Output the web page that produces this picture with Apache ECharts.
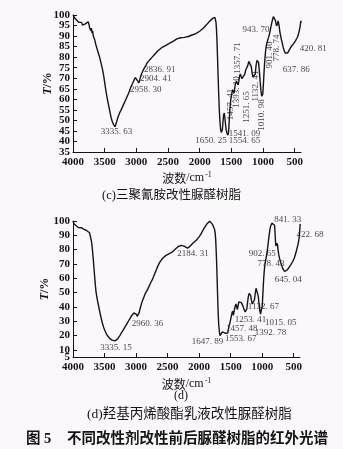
<!DOCTYPE html>
<html>
<head>
<meta charset="utf-8">
<style>
  html, body { margin: 0; padding: 0; background: #fbf8fb; }
  #chart { width: 343px; height: 449px; }
</style>
<script src="https://cdn.jsdelivr.net/npm/echarts@6/dist/echarts.min.js"></script>
</head>
<body>
<div id="chart"></div>
<script>
// Wavenumber ticks (cm^-1) shared by both spectra
const wnTicks = [4000, 3500, 3000, 2500, 2000, 1500, 1000, 500];
// Transmittance ticks and labels
const tTicksC = [35, 40, 45, 50, 55, 60, 65, 70, 75, 80, 85, 90, 95, 100];
const tLabelsD = [5, 10, 20, 30, 40, 50, 60, 70, 80, 90, 100];
const tTicksD = [10, 20, 30, 40, 50, 60, 70, 80, 90, 100];

// (c) melamine-modified UF resin: [wavenumber, T%]
const spectrumC = [
  [4000,100],[3985,99.5],[3970,98.5],[3955,98.8],[3940,97.5],[3925,98],[3910,96.5],[3895,97.2],
  [3880,95.8],[3865,96.5],[3850,95.2],[3835,96],[3820,94.8],[3805,95.8],[3790,96.2],[3775,95],
  [3760,96.8],[3748,95.5],[3738,94],[3728,94.8],[3718,92.5],[3710,93.8],[3700,91.5],[3690,92.5],
  [3680,90],[3670,90.8],[3655,88],[3640,86],[3620,84],[3600,82],[3580,80],[3560,77.5],[3540,75],
  [3520,72],[3500,68],[3480,64],[3460,60.5],[3440,57.5],[3420,54.5],[3400,51.5],[3380,49.5],
  [3360,48],[3345,47.2],[3336,47],[3325,47.8],[3310,49.5],[3290,51.5],[3265,53.5],[3240,55],
  [3210,57],[3180,59],[3150,61],[3120,63],[3090,65.5],[3060,67.5],[3035,69.2],[3015,70.3],
  [3000,70],[2985,69],[2970,68.2],[2958,67.8],[2948,69],[2935,70.5],[2918,72],[2904,73],
  [2890,74],[2870,75],[2850,76],[2836,77],[2810,78],[2780,79],[2750,80],[2720,81],[2690,82],
  [2660,83],[2630,83.8],[2600,84.5],[2570,85],[2540,85.5],[2510,86],[2480,86.5],[2450,87],
  [2420,87.5],[2390,88.2],[2360,88.7],[2330,89],[2300,89.2],[2270,89.3],[2240,89.4],[2210,89.6],
  [2180,89.8],[2150,90.1],[2120,90.5],[2090,90.8],[2060,91.2],[2030,91.8],[2000,92.3],[1970,92.9],
  [1940,93.8],[1910,94.8],[1880,95.8],[1850,96.8],[1820,97.7],[1795,98.4],[1775,98.8],[1760,98.9],
  [1750,98.2],[1742,96.5],[1735,93.5],[1727,88],[1718,80],[1710,72],[1700,63],[1690,55],
  [1680,49.5],[1670,46],[1660,44.3],[1650,44],[1642,45.5],[1633,49],[1622,52.5],[1612,53.5],
  [1603,51.5],[1593,48.5],[1582,45.5],[1570,44],[1560,43.3],[1554,43],[1546,44],[1541,45.5],
  [1533,50],[1522,55.5],[1510,59.5],[1495,62.5],[1480,64.5],[1468,64.5],[1457,63],[1448,65],
  [1435,67.5],[1420,68.5],[1405,68],[1393,66.8],[1382,68.5],[1370,71],[1358,72],[1347,71],
  [1333,69.8],[1318,69.2],[1303,70],[1288,72],[1272,74],[1260,74.5],[1251,74],[1240,76],
  [1225,78],[1210,78.8],[1198,78.2],[1185,75.5],[1172,72.5],[1160,70.5],[1148,70],[1132,69.8],
  [1122,72],[1110,76],[1095,78.5],[1082,79],[1070,77.5],[1058,73.5],[1045,68.5],[1032,64],
  [1020,61.5],[1011,61],[1003,62.5],[995,66.5],[985,72],[975,77],[965,81],[955,84],[944,86],
  [935,87],[922,88.5],[910,89.5],[901,90],[890,92],[875,94.5],[860,96.5],[848,98],[836,99.2],
  [826,99.4],[816,98.6],[806,97.5],[795,96],[786,94.8],[779,94.5],[771,95.8],[762,97.2],
  [754,97],[746,95],[736,92.5],[724,90.5],[710,88.5],[695,86.5],[680,84.5],[665,83],[650,82],
  [638,81.5],[625,81.6],[610,82],[595,82.8],[580,83.7],[565,84.5],[550,85.2],[535,85.8],
  [520,86.3],[505,86.9],[490,87.6],[475,88.4],[460,89.2],[448,90],[438,91.2],[428,92.5],
  [421,93],[414,94.5],[408,96],[402,97.2],[397,96.3]
];

// (d) hydroxy-acrylate emulsion modified UF resin: [wavenumber, T%]
const spectrumD = [
  [4000,100],[3990,98.5],[3975,97.5],[3960,97],[3945,96],[3930,96.3],[3915,95.5],[3900,95.8],
  [3885,95],[3870,95.3],[3855,94.5],[3840,94.8],[3825,94.2],[3810,93.6],[3795,94],[3780,93.2],
  [3765,93.5],[3750,92.5],[3738,91.8],[3728,90],[3718,88],[3708,86],[3700,83.5],[3692,80],
  [3684,76],[3676,72],[3668,67.5],[3660,63],[3652,58.5],[3644,54.5],[3636,51],[3626,48],
  [3612,44.5],[3598,41.5],[3582,38],[3565,34.5],[3548,31],[3530,28],[3512,25.5],[3494,23.5],
  [3476,21.7],[3458,20.2],[3440,19],[3420,18],[3400,17.2],[3380,16.8],[3360,16.5],[3335,16.3],
  [3315,16.7],[3295,17.5],[3275,18.7],[3255,20.1],[3235,21.6],[3215,23],[3195,24.5],[3175,26],
  [3155,27.5],[3135,29],[3115,30.5],[3095,32],[3075,33.5],[3055,34.8],[3035,35.8],[3020,36.4],
  [3008,36],[2995,34.8],[2982,33.4],[2970,32.8],[2960,33.5],[2950,36],[2938,38.5],[2922,41],
  [2905,43.5],[2888,45.5],[2870,47.5],[2852,49.5],[2835,50.5],[2818,52],[2800,53.8],[2782,55.5],
  [2764,57.2],[2746,58.7],[2728,60.5],[2710,62.5],[2692,64.5],[2674,66.5],[2656,68.3],[2638,70],
  [2620,71.5],[2600,72.8],[2578,74],[2555,75],[2530,75.8],[2505,76.5],[2480,77],[2455,77.5],
  [2430,78.2],[2405,79.2],[2380,80.3],[2355,81.3],[2330,82.2],[2305,82.8],[2280,83],[2255,82.8],
  [2230,82.3],[2205,81.6],[2184,81],[2165,81.3],[2145,82.3],[2120,83.6],[2095,84.6],[2070,85.5],
  [2045,86.5],[2020,87.8],[1995,89.3],[1970,91],[1945,93],[1920,95],[1895,96.8],[1870,98.3],
  [1850,99.3],[1832,99.8],[1818,99.6],[1804,98.8],[1790,97.8],[1776,96.5],[1762,95],[1752,93.5],
  [1744,91],[1736,86],[1728,78],[1720,68],[1712,56],[1704,44],[1696,34],[1688,27],[1678,22.5],
  [1668,20],[1658,19.2],[1648,19],[1640,20.3],[1631,22.5],[1622,23.6],[1612,23.3],[1600,22.4],
  [1587,21.6],[1574,20.9],[1562,20.4],[1553,20.3],[1545,21.8],[1535,24.5],[1522,27],[1508,29.5],
  [1494,32.5],[1480,35.5],[1468,37],[1460,35.5],[1457,34],[1450,35],[1440,38],[1428,40.5],
  [1415,42],[1403,40.8],[1393,38.2],[1383,40.5],[1370,43.5],[1358,44],[1345,42.5],[1330,43],
  [1315,42],[1300,40],[1285,38],[1270,36.5],[1260,35.8],[1253,35.5],[1244,38.5],[1232,43],
  [1220,47],[1207,49.5],[1195,50],[1183,48],[1170,44.5],[1157,42],[1145,41.2],[1133,41.8],
  [1122,45],[1110,49.5],[1097,53],[1085,54.2],[1074,52.5],[1062,47.5],[1050,42],[1038,37.5],
  [1026,35],[1015,34.3],[1006,36],[998,41],[990,48],[982,55],[974,61],[966,65.5],[956,69.5],
  [945,72.5],[933,75.5],[920,79],[910,82.5],[903,85],[895,88],[885,91.5],[875,94.5],[865,96.5],
  [855,97.8],[846,98.5],[841,98.6],[834,97.8],[826,97.3],[818,98],[810,98.3],[803,97],[796,92],
  [789,86],[783,82.5],[778,81.5],[773,83],[767,84.5],[761,84.8],[755,83],[747,79.5],[737,76.5],
  [725,74],[712,72],[698,70],[684,68.2],[670,66.5],[657,65.3],[645,64.8],[633,64.7],[620,65],
  [605,65.7],[590,66.5],[575,67.5],[560,68.5],[545,69.5],[530,70.5],[515,71.7],[500,73],
  [486,74.7],[472,76.8],[458,79],[445,81.3],[432,83.5],[423,85.5],[415,88],[408,91.5],
  [402,95],[397,98]
];

// Band positions marked on each spectrum (cm^-1)
const peaksC = [3335.63, 2958.30, 2904.41, 2836.91, 1650.25, 1554.65, 1541.09, 1457.41,
  1393.10, 1357.71, 1251.65, 1132.41, 1010.98, 943.70, 901.40, 778.74, 637.86, 420.81];
const peaksD = [3335.15, 2960.36, 2184.31, 1647.89, 1553.67, 1457.48, 1253.41, 1392.78,
  1132.67, 1015.05, 902.65, 778.43, 645.04, 841.33, 422.68];

// Where each band label sits, in axis units: [wavenumber, T, rotate, align]
const spotsC = [
  [3314, 44.6, 0, 'center'], [3101, 64.8, 0, 'left'], [2943, 69.6, 0, 'left'],
  [2880, 73.9, 0, 'left'], [1571, 40.2, 0, 'right'], [1539, 40.2, 0, 'left'],
  [1539, 43.5, 0, 'left'], [1510, 57.5, 90, 'center'], [1422, 63.5, 90, 'center'],
  [1395, 79.6, 90, 'center'], [1262, 56.4, 90, 'center'], [1122, 66.3, 90, 'center'],
  [1026, 52.6, 90, 'center'], [1323, 93.1, 0, 'left'], [893, 81, 90, 'center'],
  [789, 84.3, 90, 'center'], [688, 73.9, 0, 'left'], [420, 83.9, 0, 'left']
];
const spotsD = [
  [3319, 11.8, 0, 'center'], [3070, 28.6, 0, 'left'], [2347, 77.4, 0, 'left'],
  [1618, 15.7, 0, 'right'], [1591, 18.1, 0, 'left'], [1575, 25.1, 0, 'left'],
  [1433, 30.9, 0, 'left'], [1116, 22, 0, 'left'], [1227, 40.2, 0, 'left'],
  [957, 29, 0, 'left'], [1211, 77, 0, 'left'], [1073, 70.5, 0, 'left'],
  [799, 59.3, 0, 'left'], [810, 100.7, 0, 'left'], [455, 90.2, 0, 'left']
];

const SERIF = 'Liberation Serif';
const CJK = '"Liberation Serif", "Noto Sans CJK SC"';
const INK = '#141414';

function bandLabels(peaks, spots) {
  return peaks.map((p, i) => ({
    value: [spots[i][0], spots[i][1]],
    label: {
      show: true,
      position: 'inside',
      formatter: p.toFixed(2).replace('.', '. '),
      rotate: spots[i][2],
      align: spots[i][3],
      verticalAlign: 'middle',
      fontFamily: SERIF,
      fontSize: 9,
      color: INK
    }
  }));
}

const plain = v => String(v);
const tickFont = { fontFamily: SERIF, fontSize: 11, fontWeight: 'bold', color: INK };

function xAxisFor(gridIndex, nameGap) {
  return {
    gridIndex, type: 'value', inverse: true, min: 400, max: 4000,
    name: '{c|波数}{l|/cm}{s|-1}', nameLocation: 'middle', nameGap, nameMoveOverlap: false,
    nameTextStyle: {
      rich: {
        c: { fontFamily: 'Noto Sans CJK SC', fontSize: 12, color: INK },
        l: { fontFamily: SERIF, fontSize: 12, color: INK },
        s: { fontFamily: SERIF, fontSize: 8, color: INK, verticalAlign: 'top', padding: [0, 0, 6, 1] }
      }
    },
    axisLine: { show: true, onZero: false, lineStyle: { color: INK, width: 1 } },
    axisTick: { show: true, inside: true, length: 4, customValues: wnTicks, lineStyle: { color: INK } },
    axisLabel: Object.assign({ customValues: wnTicks, formatter: plain, margin: 5 }, tickFont),
    splitLine: { show: false }
  };
}

// Main y axis: line, ticks, name and every other label
function yAxisFor(gridIndex, min, labels, ticks, nameGap) {
  return {
    gridIndex, type: 'value', min, max: 100,
    name: '{i|T}{n|/%}', nameLocation: 'middle', nameRotate: 90, nameGap, nameMoveOverlap: false,
    nameTextStyle: {
      rich: {
        i: { fontFamily: SERIF, fontStyle: 'italic', fontWeight: 'bold', fontSize: 12, color: INK },
        n: { fontFamily: SERIF, fontWeight: 'bold', fontSize: 12, color: INK }
      }
    },
    axisLine: { show: true, onZero: false, lineStyle: { color: INK, width: 1 } },
    axisTick: { show: true, inside: true, length: 4, customValues: ticks, lineStyle: { color: INK } },
    axisLabel: Object.assign({ customValues: labels.filter((v, i) => i % 2 === 0), formatter: plain,
      showMinLabel: true, showMaxLabel: true, margin: 3 }, tickFont),
    splitLine: { show: false }
  };
}

// Companion y axis carrying the remaining labels so close neighbours are not dropped
function yLabelAxisFor(gridIndex, min, labels) {
  return {
    gridIndex, type: 'value', min, max: 100, position: 'left',
    axisLine: { show: false }, axisTick: { show: false }, splitLine: { show: false },
    axisLabel: Object.assign({ customValues: labels.filter((v, i) => i % 2 === 1), formatter: plain,
      showMinLabel: true, showMaxLabel: true, margin: 3 }, tickFont)
  };
}

const chart = echarts.init(document.getElementById('chart'), null, { renderer: 'canvas' });
chart.setOption({
  backgroundColor: '#fbf8fb',
  animation: false,
  grid: [
    { left: 73, top: 15, width: 228, height: 137 },
    { left: 73, top: 221, width: 227, height: 136 }
  ],
  xAxis: [xAxisFor(0, 19), xAxisFor(1, 20)],
  yAxis: [
    yAxisFor(0, 35, tTicksC, tTicksC, 19),
    yAxisFor(1, 5, tLabelsD, tTicksD, 22),
    yLabelAxisFor(0, 35, tTicksC),
    yLabelAxisFor(1, 5, tLabelsD)
  ],
  series: [
    { type: 'line', xAxisIndex: 0, yAxisIndex: 0, data: spectrumC, showSymbol: false, clip: false,
      lineStyle: { color: INK, width: 1.4 } },
    { type: 'line', xAxisIndex: 1, yAxisIndex: 1, data: spectrumD, showSymbol: false, clip: false,
      lineStyle: { color: INK, width: 1.4 } },
    { type: 'scatter', xAxisIndex: 0, yAxisIndex: 0, symbolSize: 0, clip: false, silent: true,
      data: bandLabels(peaksC, spotsC) },
    { type: 'scatter', xAxisIndex: 1, yAxisIndex: 1, symbolSize: 0, clip: false, silent: true,
      data: bandLabels(peaksD, spotsD) }
  ],
  graphic: [
    { type: 'text', left: 'center', top: 189, style: { text: '(c)三聚氰胺改性脲醛树脂', font: '12.5px ' + CJK, fill: INK }, x: 14 },
    { type: 'text', x: 174, y: 390, style: { text: '(d)', font: '12px ' + CJK, fill: INK } },
    { type: 'text', x: 87, y: 408, style: { text: '(d)羟基丙烯酸酯乳液改性脲醛树脂', font: '13.5px ' + CJK, fill: INK } },
    { type: 'text', x: 26, y: 432, style: { text: '图 5', font: 'bold 14.5px ' + CJK, fill: INK } },
    { type: 'text', x: 67, y: 432, style: { text: '不同改性剂改性前后脲醛树脂的红外光谱', font: 'bold 14.5px ' + CJK, fill: INK } }
  ]
});
</script>
</body>
</html>
